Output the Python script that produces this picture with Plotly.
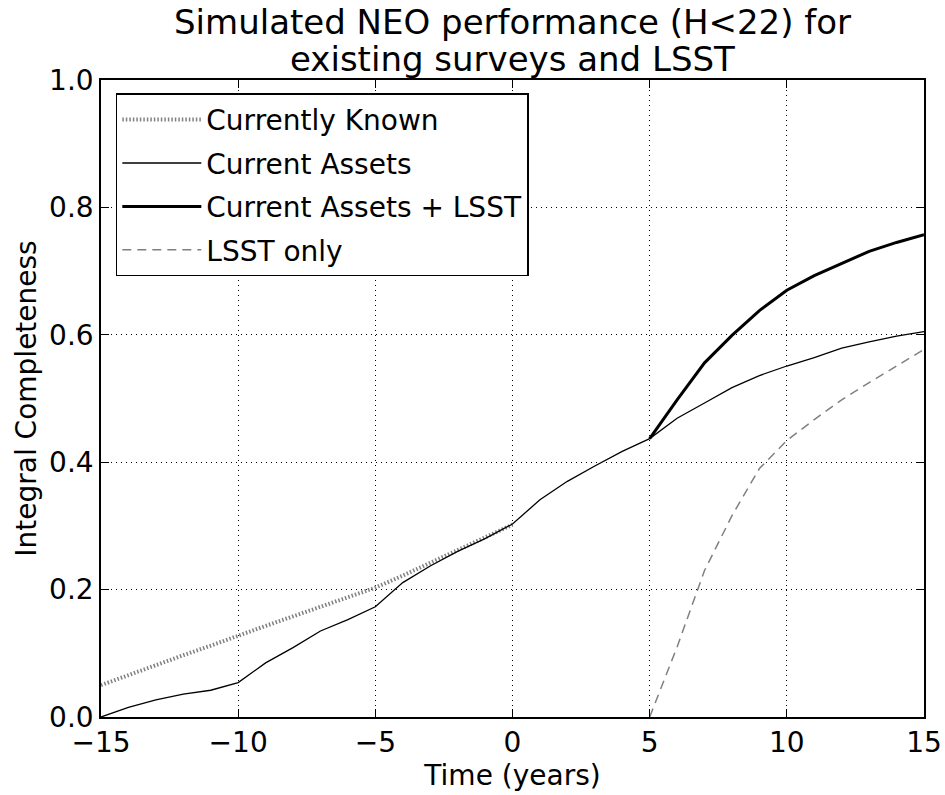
import plotly.graph_objects as go

years_known = list(range(-15, 1))
known = [0.050, 0.066, 0.081, 0.097, 0.112, 0.128, 0.143, 0.158, 0.173, 0.188,
         0.203, 0.222, 0.242, 0.262, 0.282, 0.302]

years_all = list(range(-15, 16))
current_assets = [0.000, 0.015, 0.027, 0.036, 0.042, 0.054, 0.085, 0.109, 0.135, 0.153,
                  0.173, 0.211, 0.237, 0.260, 0.280, 0.303, 0.341, 0.370, 0.394, 0.417,
                  0.437, 0.469, 0.493, 0.517, 0.536, 0.551, 0.564, 0.579, 0.589, 0.598,
                  0.605]

years_future = list(range(5, 16))
assets_lsst = [0.437, 0.498, 0.556, 0.599, 0.638, 0.670, 0.693, 0.712, 0.731, 0.745, 0.757]
lsst_only = [0.000, 0.110, 0.230, 0.316, 0.390, 0.434, 0.467, 0.498, 0.525, 0.551, 0.577]

title_lines = ["Simulated NEO performance (H<22) for", "existing surveys and LSST"]
x_label = "Time (years)"
y_label = "Integral Completeness"
x_ticks = [-15, -10, -5, 0, 5, 10, 15]
y_ticks = [0, 0.2, 0.4, 0.6, 0.8, 1.0]

FONT = "DejaVu Sans"
FS = 28
FS_TITLE = 34

fig = go.Figure()
fig.add_trace(go.Scatter(x=years_known, y=known, mode="lines", name="Currently Known",
                         legendgroup="a",
                         line=dict(color="#808080", width=4, dash="1.5px,2px")))
fig.add_trace(go.Scatter(x=years_all, y=current_assets, mode="lines", name="Current Assets",
                         legendgroup="b",
                         line=dict(color="black", width=1.3)))
fig.add_trace(go.Scatter(x=years_future, y=assets_lsst, mode="lines", name="Current Assets + LSST",
                         legendgroup="c",
                         line=dict(color="black", width=3)))
fig.add_trace(go.Scatter(x=years_future, y=lsst_only, mode="lines", name="LSST only",
                         legendgroup="d",
                         line=dict(color="#808080", width=1.5, dash="9px,6px")))

axis_common = dict(
    showline=True, linecolor="black", linewidth=1.5, mirror="ticks",
    ticks="inside", ticklen=8, tickwidth=1, tickcolor="black",
    showgrid=True, gridcolor="black", gridwidth=1, griddash="1px,4px",
    zeroline=False, automargin=False,
    tickfont=dict(family=FONT, size=FS, color="black"),
)

PLOT_TOP, PLOT_BOTTOM = 80, 717
ph = PLOT_BOTTOM - PLOT_TOP

annotations = []
for line, ypix in zip(title_lines, [22, 59]):
    annotations.append(dict(text=line, xref="paper", yref="paper", x=0.5,
                            y=1 + (PLOT_TOP - ypix) / ph, xanchor="center", yanchor="middle",
                            showarrow=False, font=dict(family=FONT, size=FS_TITLE, color="black")))

fig.update_layout(
    width=945, height=795,
    margin=dict(l=101, r=21, t=PLOT_TOP, b=795 - PLOT_BOTTOM, autoexpand=False),
    paper_bgcolor="white", plot_bgcolor="white",
    font=dict(family=FONT, color="black"),
    annotations=annotations,
    xaxis=dict(range=[-15, 15], tickvals=x_ticks,
               title=dict(text=x_label, font=dict(family=FONT, size=FS), standoff=2),
               **axis_common),
    yaxis=dict(range=[0, 1.0], tickvals=y_ticks, tickformat=".1f",
               title=dict(text=y_label, font=dict(family=FONT, size=FS), standoff=4),
               **axis_common),
    legend=dict(x=0.018, y=0.979, xanchor="left", yanchor="top",
                bgcolor="white", bordercolor="black", borderwidth=1.5,
                font=dict(family=FONT, size=FS, color="black"),
                itemwidth=79, tracegroupgap=4),
    showlegend=True,
)

fig.write_html("out.html")
